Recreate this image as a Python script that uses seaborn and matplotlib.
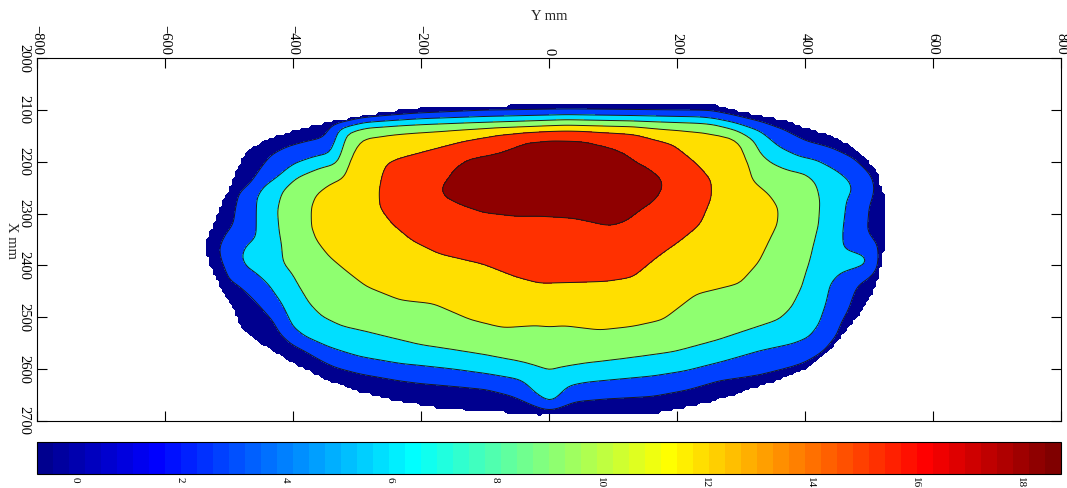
import numpy as np
import matplotlib
matplotlib.use("Agg")
import matplotlib.pyplot as plt
import seaborn as sns
from matplotlib.path import Path
from matplotlib.colors import ListedColormap, Normalize
from matplotlib.cm import ScalarMappable

# contour outlines, as (Y mm, X mm) vertex lists
# outer edge of the measured area (value ~0)
edge_y = [37, 256, 277, 318, 371, 402, 443, 475, 501, 517, 521, 529, 529, 525, 521, 517, 506, 490,
          470, 443, 402, 350, 298, 246, 193, 157, -15, -51, -104, -171, -233, -296, -348, -400,
          -442, -479, -494, -515, -530, -538, -538, -525, -510, -494, -479, -468, -432, -390,
          -338, -296, -254, -202, -93]
edge_x = [2087, 2087, 2095, 2107, 2120, 2133, 2149, 2172, 2201, 2223, 2255, 2275, 2358, 2371, 2396,
          2423, 2454, 2487, 2519, 2558, 2599, 2625, 2647, 2667, 2680, 2688, 2690, 2686, 2683, 2676,
          2664, 2645, 2622, 2589, 2558, 2526, 2487, 2442, 2403, 2371, 2358, 2319, 2275, 2230, 2191,
          2174, 2152, 2136, 2120, 2111, 2102, 2095, 2091]

# level 3
c3_y = [27, 256, 282, 329, 368, 402, 444, 480, 506, 514, 501, 498, 517, 514, 501, 485, 478, 470,
        459, 454, 433, 407, 381, 329, 267, 215, 163, 90, 38, 17, -2, -25, -46, -61, -98, -150,
        -202, -233, -296, -335, -356, -382, -403, -418, -429, -444, -465, -486, -502, -507, -515,
        -517, -507, -494, -491, -486, -465, -449, -434, -408, -377, -350, -340, -296, -213, -98]
c3_x = [2098, 2101, 2107, 2120, 2136, 2159, 2172, 2191, 2223, 2249, 2288, 2333, 2362, 2410, 2426,
        2436, 2455, 2487, 2513, 2539, 2571, 2590, 2600, 2614, 2622, 2641, 2653, 2658, 2664, 2674,
        2680, 2670, 2658, 2651, 2638, 2632, 2627, 2622, 2609, 2597, 2584, 2564, 2551, 2532, 2506,
        2487, 2461, 2439, 2429, 2410, 2384, 2365, 2339, 2320, 2288, 2259, 2242, 2210, 2185, 2169,
        2159, 2153, 2127, 2114, 2107, 2099]

# level 6
c6_y = [27, 235, 288, 329, 360, 392, 418, 449, 470, 475, 465, 459, 459, 485, 501, 504, 496, 454,
        439, 433, 423, 407, 381, 329, 267, 215, 163, 110, 58, 30, 22, 12, 4, -9, -25, -35, -46,
        -98, -150, -202, -233, -296, -345, -382, -403, -418, -439, -457, -475, -483, -475, -457,
        -457, -449, -423, -397, -366, -340, -335, -327, -285, -202, -98]
c6_x = [2111, 2114, 2124, 2140, 2172, 2191, 2197, 2217, 2236, 2255, 2275, 2333, 2368, 2375, 2381,
        2394, 2403, 2416, 2436, 2474, 2513, 2539, 2551, 2564, 2587, 2603, 2613, 2619, 2625, 2632,
        2645, 2661, 2670, 2661, 2645, 2629, 2619, 2609, 2600, 2593, 2590, 2577, 2558, 2539, 2519,
        2474, 2436, 2416, 2403, 2384, 2362, 2346, 2268, 2249, 2230, 2204, 2191, 2185, 2165, 2136,
        2124, 2117, 2114]

# level 9
c9_y = [27, 131, 256, 298, 319, 329, 345, 371, 402, 418, 425, 423, 415, 407, 397, 381, 360, 329,
        267, 194, 110, 58, 12, 1, -9, -46, -98, -150, -202, -233, -285, -324, -356, -377, -392,
        -403, -416, -418, -423, -426, -418, -397, -356, -330, -324, -317, -285, -181, -25]
c9_x = [2117, 2120, 2126, 2143, 2159, 2185, 2201, 2214, 2221, 2239, 2275, 2320, 2358, 2397, 2442,
        2481, 2506, 2519, 2545, 2568, 2582, 2590, 2600, 2606, 2600, 2587, 2574, 2564, 2555, 2545,
        2529, 2519, 2500, 2474, 2442, 2416, 2397, 2365, 2333, 2294, 2255, 2230, 2210, 2204, 2178,
        2143, 2133, 2127, 2120]

# level 12
c12_y = [27, 131, 235, 288, 303, 314, 319, 345, 360, 359, 345, 329, 298, 256, 230, 178, 131, 79,
         22, 1, -20, -72, -124, -181, -233, -285, -319, -345, -366, -374, -374, -366, -345, -322,
         -317, -306, -291, -233, -129]
c12_x = [2130, 2133, 2140, 2149, 2165, 2204, 2236, 2262, 2290, 2320, 2354, 2394, 2436, 2448, 2455,
         2506, 2519, 2526, 2516, 2519, 2516, 2522, 2506, 2474, 2468, 2442, 2410, 2384, 2352, 2326,
         2288, 2262, 2242, 2230, 2204, 2175, 2153, 2143, 2136]

# level 15
c15_y = [27, 131, 194, 230, 254, 254, 235, 204, 168, 131, 90, 38, -15, -51, -103, -171, -213, -244,
         -265, -267, -262, -254, -233, -129, -77]
c15_x = [2140, 2143, 2165, 2204, 2236, 2268, 2320, 2352, 2384, 2423, 2431, 2434, 2436, 2423, 2397,
         2378, 2352, 2320, 2288, 2255, 2223, 2201, 2191, 2159, 2146]

# level 18
c18_y = [1, 53, 100, 121, 137, 157, 178, 181, 168, 142, 121, 95, 64, 38, -15, -51, -103, -140,
         -166, -171, -160, -150, -129, -77, -35]
c18_x = [2151, 2153, 2169, 2181, 2197, 2210, 2230, 2249, 2275, 2297, 2317, 2326, 2317, 2310, 2306,
         2307, 2300, 2284, 2268, 2249, 2230, 2210, 2191, 2178, 2156]

edge_value = 0.0
contour_levels = [3, 6, 9, 12, 15, 18]
peak_value = 18.7
band_colors = ["#00008f", "#0040ff", "#00dfff", "#8fff70", "#ffdf00", "#ff3000", "#8f0000"]
cbar_min, cbar_max = -0.72, 18.77
cbar_ticks = [0, 2, 4, 6, 8, 10, 12, 14, 16, 18]
y_ticks = [-800, -600, -400, -200, 0, 200, 400, 600, 800]
x_ticks = [2000, 2100, 2200, 2300, 2400, 2500, 2600, 2700]

outlines = [(edge_y, edge_x), (c3_y, c3_x), (c6_y, c6_x), (c9_y, c9_x),
            (c12_y, c12_x), (c15_y, c15_x), (c18_y, c18_x)]
outline_values = [edge_value] + contour_levels

# 5 mm measuring grid
gy, gx = np.meshgrid(np.arange(-800, 801, 5.0), np.arange(2000, 2701, 5.0))
pts = np.column_stack([gy.ravel(), gx.ravel()])


def outline_info(ys, xs):
    poly = np.column_stack([ys, xs]).astype(float)
    inside = Path(poly).contains_points(pts)
    a = poly
    ab = np.roll(poly, -1, axis=0) - a
    ap = pts[:, None, :] - a[None, :, :]
    t = np.clip((ap * ab).sum(-1) / (ab ** 2).sum(-1), 0, 1)
    d = np.linalg.norm(ap - t[..., None] * ab, axis=-1).min(axis=1)
    return inside, d


info = [outline_info(y, x) for y, x in outlines]
z = np.full(len(pts), np.nan)
for k in range(len(info) - 1):
    ins_k, d_k = info[k]
    ins_n, d_n = info[k + 1]
    m = ins_k & ~ins_n
    z[m] = outline_values[k] + (outline_values[k + 1] - outline_values[k]) * d_k[m] / (d_k[m] + d_n[m])
ins_top, d_top = info[-1]
z[ins_top] = outline_values[-1] + (peak_value - outline_values[-1]) * np.clip(d_top[ins_top] / 40, 0, 1)
z = z.reshape(gy.shape)

# light smoothing so the traced outlines come out rounded like the original
outside = np.isnan(z)
kern = np.exp(-0.5 * (np.arange(-4, 5) / 1.6) ** 2)
kern /= kern.sum()
zs = np.where(outside, edge_value, z)
zs = np.apply_along_axis(lambda r: np.convolve(r, kern, mode="same"), 1, zs)
zs = np.apply_along_axis(lambda c: np.convolve(c, kern, mode="same"), 0, zs)
Z = np.ma.masked_array(zs, mask=outside)


def matlab_jet(n=64):
    m = n // 4
    u = np.concatenate([np.arange(1, m + 1) / m, np.ones(m - 1), np.arange(m, 0, -1) / m])
    g = int(np.ceil(m / 2)) - int(n % 4 == 1) + np.arange(1, len(u) + 1)
    J = np.zeros((n, 3))
    for col, idx in ((0, g + m), (1, g), (2, g - m)):
        ok = (idx >= 1) & (idx <= n)
        J[idx[ok] - 1, col] = u[ok]
    return J


sns.set_theme(style="white")
plt.rcParams["font.family"] = ["Liberation Serif", "DejaVu Serif"]

W, H = 1067, 488
fig = plt.figure(figsize=(W / 100, H / 100), dpi=100)
ax = fig.add_axes([37 / W, 1 - 421 / H, 1024 / W, 363 / H])

ax.contourf(gy, gx, Z, levels=[-1] + contour_levels + [19], colors=band_colors)
ax.contour(gy, gx, Z, levels=contour_levels, colors="k", linewidths=0.7)

ax.set_xlim(-800, 800)
ax.set_ylim(2700, 2000)
ax.set_xticks(y_ticks)
ax.set_yticks(x_ticks)
ax.xaxis.tick_top()
ax.tick_params(axis="both", direction="in", length=7, width=0.8, colors="black",
               top=True, bottom=True, left=True, right=True, labelsize=10.5)
ax.tick_params(axis="x", labeltop=True, labelbottom=False, labelrotation=-90, pad=2)
ax.tick_params(axis="y", labelrotation=-90, pad=4.5)
for lbl in ax.get_yticklabels():
    lbl.set_va("center")
for sp in ax.spines.values():
    sp.set_color("black")
    sp.set_linewidth(0.8)

fig.text(549 / W, 1 - 16 / H, "Y mm", ha="center", va="center", fontsize=10.5)
fig.text(11 / W, 1 - 240 / H, "X mm", ha="center", va="center", rotation=-90, fontsize=10.5)

cax = fig.add_axes([37 / W, 1 - 474 / H, 1024 / W, 32 / H])
sm = ScalarMappable(norm=Normalize(cbar_min, cbar_max), cmap=ListedColormap(matlab_jet(64)))
cb = fig.colorbar(sm, cax=cax, orientation="horizontal", ticks=cbar_ticks)
cb.outline.set_linewidth(0.8)
cb.outline.set_edgecolor("black")
cax.tick_params(direction="in", length=8, width=0.8, colors="black", top=True, bottom=True,
                labelsize=8, labelrotation=-90, pad=2)

fig.savefig("out.png", dpi=100)
